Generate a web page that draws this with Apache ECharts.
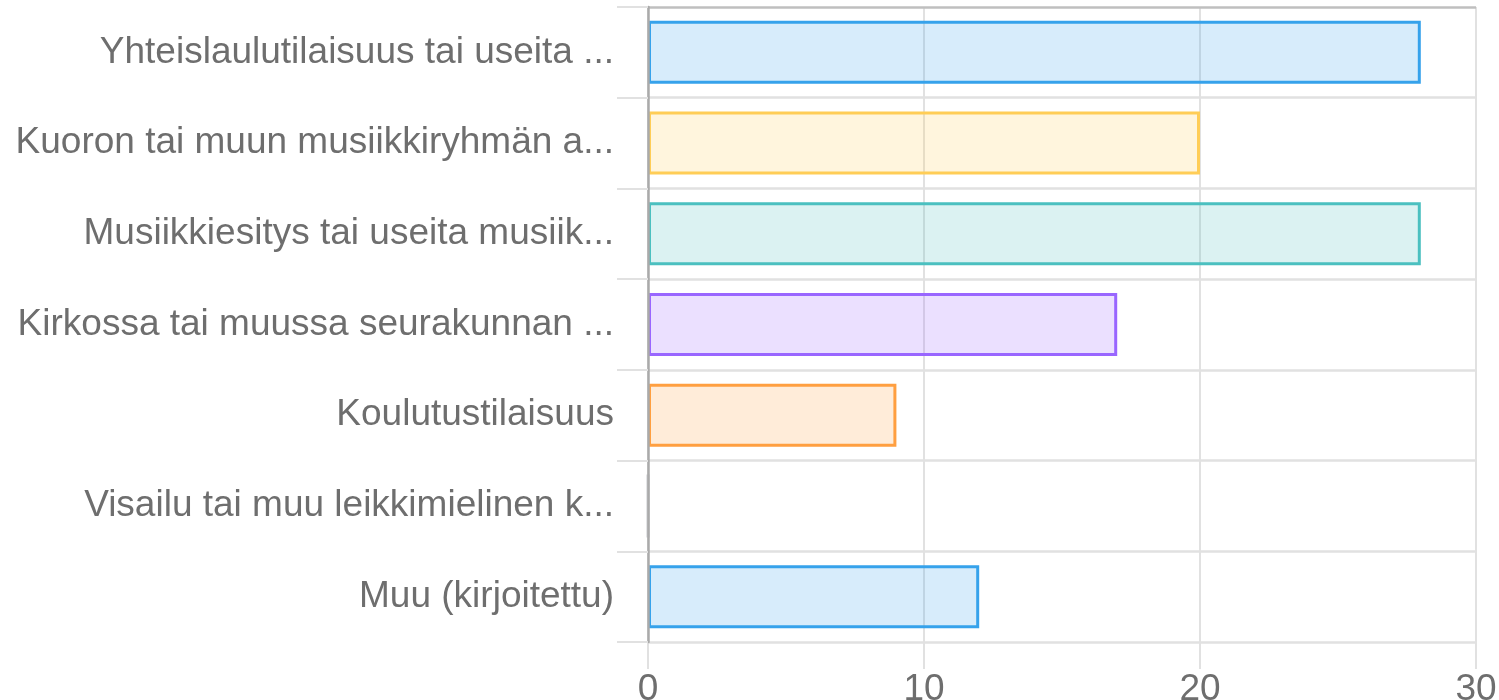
<!DOCTYPE html>
<html>
<head>
<meta charset="utf-8">
<script src="https://cdn.jsdelivr.net/npm/echarts@6/dist/echarts.min.js"></script>
<style>
  html, body { margin: 0; padding: 0; background: #fff; }
  #chart { width: 1499px; height: 700px; }
</style>
</head>
<body>
<div id="chart"></div>
<script>
// vastausvaihtoehdot (katkaistu kuten alkuperäisessä)
const categories = [
  'Yhteislaulutilaisuus tai useita ...',
  'Kuoron tai muun musiikkiryhmän a...',
  'Musiikkiesitys tai useita musiik...',
  'Kirkossa tai muussa seurakunnan ...',
  'Koulutustilaisuus',
  'Visailu tai muu leikkimielinen k...',
  'Muu (kirjoitettu)'
];
const values = [28, 20, 28, 17, 9, 0, 12];
const xTicks = [0, 10, 20, 30];

// Chart.js -oletusvärit: reuna + 20 % täyttö
const borderColors = ['rgb(54,162,235)', 'rgb(255,205,86)', 'rgb(75,192,192)', 'rgb(153,102,255)', 'rgb(255,159,64)', 'rgb(201,203,207)', 'rgb(54,162,235)'];
const fillColors = ['rgba(54,162,235,0.2)', 'rgba(255,205,86,0.2)', 'rgba(75,192,192,0.2)', 'rgba(153,102,255,0.2)', 'rgba(255,159,64,0.2)', 'rgba(201,203,207,0.2)', 'rgba(54,162,235,0.2)'];

const font = '"Liberation Sans", Arial, sans-serif';
const gridColor = '#e1e1e1';
const textColor = '#6e6e6e';

const chart = echarts.init(document.getElementById('chart'));
chart.setOption({
  animation: false,
  grid: { left: 648, right: 23, top: 7, bottom: 58, containLabel: false, outerBoundsMode: 'none' },
  xAxis: {
    type: 'value',
    min: xTicks[0],
    max: xTicks[xTicks.length - 1],
    interval: 10,
    axisLine: { show: false },
    axisTick: { show: true, length: 27, lineStyle: { color: gridColor, width: 2 } },
    splitLine: { show: true, lineStyle: { color: gridColor, width: 2 } },
    axisLabel: { fontSize: 37, color: textColor, fontFamily: font, margin: 29 }
  },
  yAxis: {
    type: 'category',
    inverse: true,
    z: 3,
    data: categories,
    axisLine: { show: true, lineStyle: { color: '#aaaaaa', width: 2.5 } },
    axisTick: { show: true, length: 31, lineStyle: { color: gridColor, width: 2 } },
    splitLine: {
      show: true,
      lineStyle: { color: ['#bfbfbf', gridColor, gridColor, gridColor, gridColor, gridColor, gridColor, gridColor], width: 2.5 }
    },
    axisLabel: { fontSize: 37, color: textColor, fontFamily: font, margin: 34 }
  },
  series: [{
    type: 'bar',
    barWidth: 63,
    data: values.map((v, i) => ({
      value: v,
      itemStyle: { color: fillColors[i], borderColor: borderColors[i], borderWidth: 3 }
    }))
  }]
});
</script>
</body>
</html>
